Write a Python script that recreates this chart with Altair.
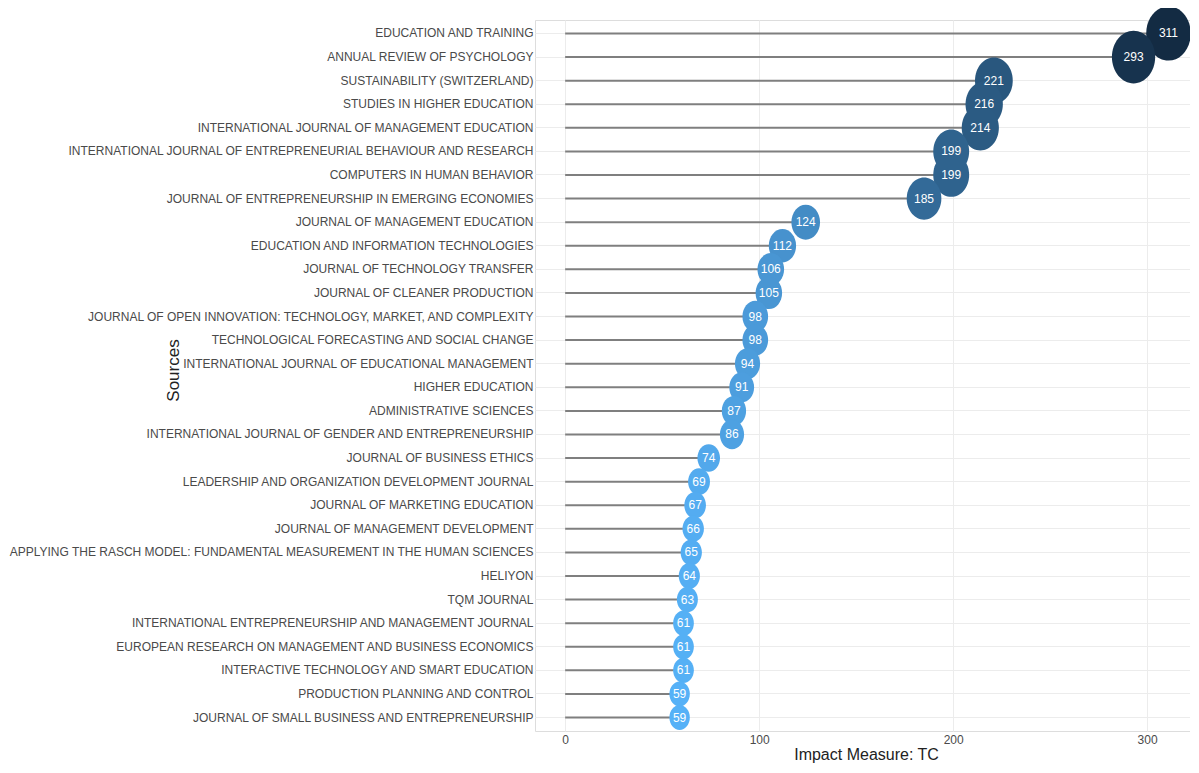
import altair as alt
import pandas as pd

sources = [
    "EDUCATION AND TRAINING",
    "ANNUAL REVIEW OF PSYCHOLOGY",
    "SUSTAINABILITY (SWITZERLAND)",
    "STUDIES IN HIGHER EDUCATION",
    "INTERNATIONAL JOURNAL OF MANAGEMENT EDUCATION",
    "INTERNATIONAL JOURNAL OF ENTREPRENEURIAL BEHAVIOUR AND RESEARCH",
    "COMPUTERS IN HUMAN BEHAVIOR",
    "JOURNAL OF ENTREPRENEURSHIP IN EMERGING ECONOMIES",
    "JOURNAL OF MANAGEMENT EDUCATION",
    "EDUCATION AND INFORMATION TECHNOLOGIES",
    "JOURNAL OF TECHNOLOGY TRANSFER",
    "JOURNAL OF CLEANER PRODUCTION",
    "JOURNAL OF OPEN INNOVATION: TECHNOLOGY, MARKET, AND COMPLEXITY",
    "TECHNOLOGICAL FORECASTING AND SOCIAL CHANGE",
    "INTERNATIONAL JOURNAL OF EDUCATIONAL MANAGEMENT",
    "HIGHER EDUCATION",
    "ADMINISTRATIVE SCIENCES",
    "INTERNATIONAL JOURNAL OF GENDER AND ENTREPRENEURSHIP",
    "JOURNAL OF BUSINESS ETHICS",
    "LEADERSHIP AND ORGANIZATION DEVELOPMENT JOURNAL",
    "JOURNAL OF MARKETING EDUCATION",
    "JOURNAL OF MANAGEMENT DEVELOPMENT",
    "APPLYING THE RASCH MODEL: FUNDAMENTAL MEASUREMENT IN THE HUMAN SCIENCES",
    "HELIYON",
    "TQM JOURNAL",
    "INTERNATIONAL ENTREPRENEURSHIP AND MANAGEMENT JOURNAL",
    "EUROPEAN RESEARCH ON MANAGEMENT AND BUSINESS ECONOMICS",
    "INTERACTIVE TECHNOLOGY AND SMART EDUCATION",
    "PRODUCTION PLANNING AND CONTROL",
    "JOURNAL OF SMALL BUSINESS AND ENTREPRENEURSHIP",
]
tc = [311, 293, 221, 216, 214, 199, 199, 185, 124, 112, 106, 105, 98, 98, 94,
      91, 87, 86, 74, 69, 67, 66, 65, 64, 63, 61, 61, 61, 59, 59]
x_ticks = [0, 100, 200, 300]

df = pd.DataFrame({"source": sources, "tc": tc})

FONT = "Liberation Sans, Arial, sans-serif"
ELLIPSE = "M -0.82 0 A 0.82 1 0 1 1 0.82 0 A 0.82 1 0 1 1 -0.82 0 Z"

y_enc = alt.Y(
    "source:N",
    sort=sources,
    scale=alt.Scale(paddingInner=0, paddingOuter=0.07),
    axis=alt.Axis(
        title="Sources",
        titleFont=FONT,
        titleFontSize=17,
        titleFontWeight="normal",
        titleColor="#222222",
        titleAngle=-90,
        titleX=-362,
        titleY=350,
        titleAlign="center",
        titleBaseline="middle",
        labelFont=FONT,
        labelFontSize=12,
        labelColor="#4a4a4a",
        labelPadding=2,
        labelLimit=800,
        tickSize=0,
        domain=False,
        grid=True,
        gridColor="#ececec",
        gridWidth=1,
    ),
)

x_scale = alt.Scale(domain=[-15.55, 322.1], nice=False, zero=False)

stems = alt.Chart(df).mark_rule(color="#7f7f7f", strokeWidth=2).encode(
    y=y_enc,
    x=alt.X(
        "tc:Q",
        scale=x_scale,
        axis=alt.Axis(
            title="Impact Measure: TC",
            titleFont=FONT,
            titleFontSize=16,
            titleFontWeight="normal",
            titleColor="#222222",
            titlePadding=1,
            titleX=331,
            labelFont=FONT,
            labelFontSize=12,
            labelColor="#4a4a4a",
            labelPadding=3,
            values=x_ticks,
            tickSize=0,
            domain=False,
            grid=True,
            gridColor="#ececec",
            gridWidth=1,
        ),
    ),
    x2=alt.datum(0),
)

points = alt.Chart(df).mark_point(
    shape=ELLIPSE, filled=True, opacity=1, strokeWidth=0
).encode(
    y=alt.Y("source:N", sort=sources),
    x=alt.X("tc:Q", scale=x_scale),
    color=alt.Color(
        "tc:Q",
        scale=alt.Scale(domain=[59, 311], range=["#56B1F7", "#132B43"], interpolate="lab"),
        legend=None,
    ),
    size=alt.Size("tc:Q", scale=alt.Scale(domain=[59, 311], range=[620, 2950]), legend=None),
)

labels = alt.Chart(df).mark_text(
    color="white", font=FONT, fontSize=12, align="center", baseline="middle"
).encode(
    y=alt.Y("source:N", sort=sources),
    x=alt.X("tc:Q", scale=x_scale),
    text=alt.Text("tc:Q"),
)

chart = (
    alt.layer(stems, points, labels)
    .properties(
        width=655,
        height=711,
        autosize=alt.AutoSizeParams(type="none"),
        padding={"left": 527, "top": 12, "right": 0, "bottom": 34},
    )
    .configure_view(stroke=None)
    .configure(background="white")
)

chart.save("out.html", embed_options={"renderer": "svg", "actions": False})
